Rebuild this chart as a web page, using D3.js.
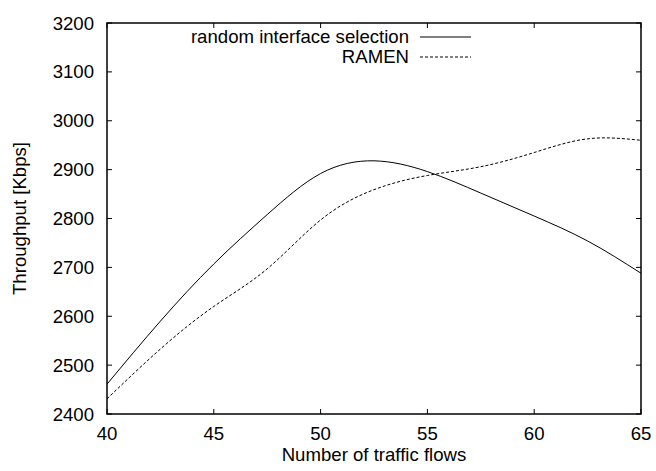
<!DOCTYPE html>
<html>
<head>
<meta charset="utf-8">
<script src="https://cdn.jsdelivr.net/npm/d3@7"></script>
<style>
  html, body { margin: 0; padding: 0; background: #fff; }
  svg { display: block; }
  text { font-family: "Liberation Sans", Arial, Helvetica, sans-serif; fill: #000; }
</style>
</head>
<body>
<svg id="chart" width="656" height="471"></svg>
<script>
// ---- data ----
const flows = [40, 42.5, 45, 47.5, 50, 52.5, 55, 57.5, 60, 62.5, 65];
const randomSel = [2461, 2590, 2707, 2808, 2892, 2918, 2896, 2852, 2805, 2754, 2688];
const ramen = [2431, 2533, 2620, 2697, 2797, 2859, 2888, 2906, 2935, 2963, 2960];
const xTicks = [40, 45, 50, 55, 60, 65];
const yTicks = [2400, 2500, 2600, 2700, 2800, 2900, 3000, 3100, 3200];
const seriesNames = ["random interface selection", "RAMEN"];
const xTitle = "Number of traffic flows";
const yTitle = "Throughput [Kbps]";

// ---- layout ----
const mLeft = 107, mRight = 641, mTop = 23, mBottom = 414;
const svg = d3.select("#chart");
const x = d3.scaleLinear().domain([40, 65]).range([mLeft, mRight]);
const y = d3.scaleLinear().domain([2400, 3200]).range([mBottom, mTop]);
const tickLen = 5;
const fontSize = 18.6;

// ticks (inward, mirrored)
const g = svg.append("g");
xTicks.forEach(t => {
  g.append("line").attr("x1", x(t)).attr("x2", x(t)).attr("y1", mBottom).attr("y2", mBottom - tickLen)
    .attr("stroke", "#000").attr("stroke-width", 1);
  g.append("line").attr("x1", x(t)).attr("x2", x(t)).attr("y1", mTop).attr("y2", mTop + tickLen)
    .attr("stroke", "#000").attr("stroke-width", 1);
  g.append("text").attr("x", x(t)).attr("y", mBottom + 26).attr("text-anchor", "middle")
    .style("font-size", fontSize + "px").text(t);
});
yTicks.forEach(t => {
  g.append("line").attr("x1", mLeft).attr("x2", mLeft + tickLen).attr("y1", y(t)).attr("y2", y(t))
    .attr("stroke", "#000").attr("stroke-width", 1);
  g.append("line").attr("x1", mRight).attr("x2", mRight - tickLen).attr("y1", y(t)).attr("y2", y(t))
    .attr("stroke", "#000").attr("stroke-width", 1);
  g.append("text").attr("x", 94).attr("y", y(t) + 6.5).attr("text-anchor", "end")
    .style("font-size", fontSize + "px").text(t);
});

// frame
svg.append("rect").attr("x", mLeft).attr("y", mTop).attr("width", mRight - mLeft).attr("height", mBottom - mTop)
  .attr("fill", "none").attr("stroke", "#000").attr("stroke-width", 1.5);

// curves
const line = d3.line().x(d => x(d[0])).y(d => y(d[1])).curve(d3.curveNatural);
const s1 = flows.map((f, i) => [f, randomSel[i]]);
const s2 = flows.map((f, i) => [f, ramen[i]]);
svg.append("path").attr("d", line(s1)).attr("fill", "none").attr("stroke", "#000").attr("stroke-width", 1);
svg.append("path").attr("d", line(s2)).attr("fill", "none").attr("stroke", "#000").attr("stroke-width", 1)
  .attr("stroke-dasharray", "3,2");

// legend
const legY = [37, 57];
seriesNames.forEach((name, i) => {
  svg.append("text").attr("x", 409).attr("y", legY[i] + 6).attr("text-anchor", "end")
    .style("font-size", fontSize + "px").text(name);
  svg.append("line").attr("x1", 420).attr("x2", 471).attr("y1", legY[i]).attr("y2", legY[i])
    .attr("stroke", "#000").attr("stroke-width", 1)
    .attr("stroke-dasharray", i === 1 ? "3,2" : null);
});

// axis titles
svg.append("text").attr("x", (mLeft + mRight) / 2).attr("y", 461).attr("text-anchor", "middle")
  .style("font-size", fontSize + "px").text(xTitle);
svg.append("text").attr("transform", `translate(26,${(mTop + mBottom) / 2}) rotate(-90)`)
  .attr("text-anchor", "middle").style("font-size", fontSize + "px").text(yTitle);
</script>
</body>
</html>
